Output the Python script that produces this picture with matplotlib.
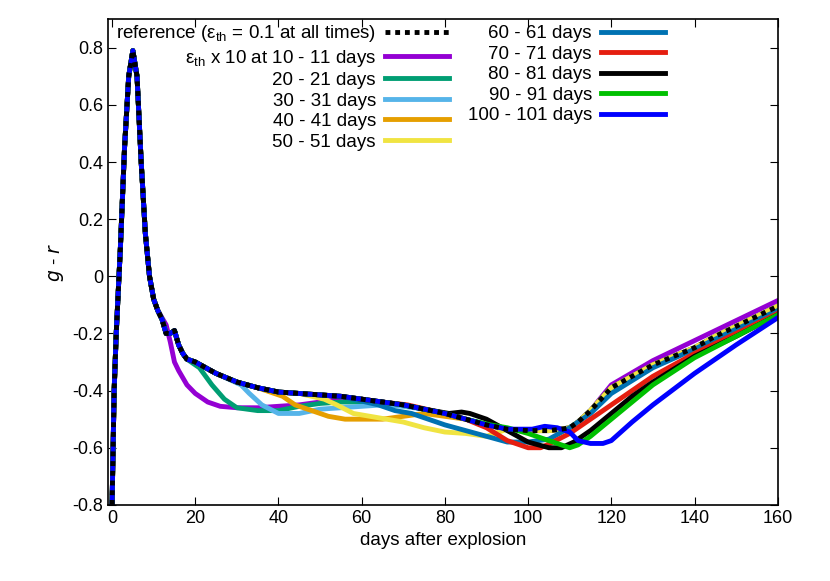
import matplotlib.pyplot as plt

plt.rcParams['font.family'] = 'Liberation Sans'
plt.rcParams['mathtext.default'] = 'regular'

# reference curve (eps_th = 0.1 at all times)
ref_t = [0, 0.5, 1, 2, 3, 4, 5, 6, 7, 8, 9, 10, 11, 12, 13, 14, 15, 16, 17, 18, 20, 25, 30, 35,
         40, 45, 50, 55, 60, 65, 70, 75, 80, 85, 90, 95, 100, 105, 108, 110, 112, 115, 120, 125,
         130, 135, 140, 145, 150, 155, 160]
ref_y = [-0.8, -0.4, -0.2, 0.1, 0.45, 0.7, 0.79, 0.7, 0.4, 0.15, 0.0, -0.08, -0.12, -0.15,
         -0.2, -0.2, -0.19, -0.24, -0.27, -0.29, -0.3, -0.34, -0.37, -0.39, -0.405, -0.41,
         -0.415, -0.42, -0.43, -0.44, -0.45, -0.465, -0.48, -0.5, -0.52, -0.535, -0.54, -0.54,
         -0.535, -0.53, -0.51, -0.47, -0.39, -0.35, -0.31, -0.28, -0.25, -0.21, -0.175, -0.14,
         -0.105]

# deviating parts of each run
labels = ['$\\epsilon_{th}$ x 10 at 10 - 11 days', '20 - 21 days', '30 - 31 days',
          '40 - 41 days', '50 - 51 days', '60 - 61 days', '70 - 71 days', '80 - 81 days',
          '90 - 91 days', '100 - 101 days']
colors = ['#9400d3', '#009e73', '#56b4e9', '#e69f00', '#f0e442', '#0072b2', '#e51e10',
          '#000000', '#00c000', '#0000ff']
starts = [12, 20, 30, 40, 50, 60, 70, 80, 90, 100]
dev_t = [
    [13, 14, 15, 16, 18, 20, 23, 26, 30, 35, 40, 45, 50, 55, 60],
    [21, 24, 27, 30, 35, 40, 45, 50, 55, 60, 65],
    [31, 33, 36, 40, 45, 50, 55, 60, 65, 70],
    [41, 44, 48, 52, 56, 60, 65, 70, 75, 80],
    [51, 54, 58, 62, 66, 70, 75, 80, 85, 90],
    [61, 64, 68, 72, 76, 80, 85, 90, 95, 100, 105, 110, 115, 120, 130, 140, 150, 160],
    [71, 80, 85, 90, 95, 100, 103, 106, 110, 115, 120, 125, 130, 140, 150, 160],
    [81, 84, 86, 90, 95, 100, 105, 108, 111, 115, 120, 125, 130, 140, 150, 160],
    [91, 95, 100, 105, 108, 110, 112, 115, 120, 125, 130, 140, 150, 160],
    [101, 104, 107, 110, 112, 115, 118, 120, 125, 130, 140, 150, 160],
]
dev_y = [
    [-0.17, -0.23, -0.3, -0.33, -0.38, -0.41, -0.44, -0.455, -0.46, -0.46, -0.455, -0.45,
     -0.44, -0.43, -0.43],
    [-0.32, -0.38, -0.43, -0.46, -0.47, -0.47, -0.455, -0.445, -0.44, -0.44, -0.44],
    [-0.38, -0.41, -0.45, -0.48, -0.48, -0.465, -0.46, -0.455, -0.45, -0.455],
    [-0.42, -0.45, -0.47, -0.49, -0.5, -0.5, -0.5, -0.49, -0.48, -0.49],
    [-0.43, -0.45, -0.48, -0.49, -0.5, -0.51, -0.53, -0.545, -0.55, -0.56],
    [-0.44, -0.45, -0.47, -0.48, -0.5, -0.52, -0.54, -0.56, -0.58, -0.58, -0.57, -0.53,
     -0.48, -0.41, -0.32, -0.255, -0.185, -0.12],
    [-0.45, -0.48, -0.5, -0.53, -0.575, -0.6, -0.6, -0.58, -0.55, -0.5, -0.45, -0.4,
     -0.35, -0.27, -0.2, -0.13],
    [-0.48, -0.475, -0.48, -0.5, -0.54, -0.58, -0.6, -0.6, -0.58, -0.54, -0.48, -0.42,
     -0.37, -0.28, -0.21, -0.135],
    [-0.52, -0.53, -0.55, -0.575, -0.59, -0.6, -0.59, -0.56, -0.5, -0.44, -0.38, -0.285,
     -0.21, -0.135],
    [-0.535, -0.525, -0.53, -0.545, -0.575, -0.585, -0.585, -0.575, -0.51, -0.45, -0.34,
     -0.24, -0.145],
]
# purple run ends slightly above the reference
purple_tail_t = [120, 130, 140, 150, 160]
purple_tail_y = [-0.38, -0.295, -0.225, -0.155, -0.085]

fig = plt.figure(figsize=(8.3, 5.81), dpi=100)
ax = fig.add_axes([0.130, 0.131, 0.807, 0.836])

for i in range(len(labels)):
    pre_t = [t for t in ref_t if t < starts[i]]
    pre_y = [y for t, y in zip(ref_t, ref_y) if t < starts[i]]
    last = dev_t[i][-1]
    post_t = [t for t in ref_t if t > last]
    post_y = [y for t, y in zip(ref_t, ref_y) if t > last]
    if i == 0:
        post_t = [t for t in ref_t if last < t < 120] + purple_tail_t
        post_y = [y for t, y in zip(ref_t, ref_y) if last < t < 120] + purple_tail_y
    ax.plot(pre_t + dev_t[i] + post_t, pre_y + dev_y[i] + post_y, color=colors[i], lw=3.5,
            label=labels[i], zorder=2 + i * 0.01)

ax.plot(ref_t, ref_y, color='black', lw=3.5, ls=(0, (1, 1)), zorder=3,
        label='reference ($\\epsilon_{th}$ = 0.1 at all times)')

handles, labs = ax.get_legend_handles_labels()
order = [10, 0, 1, 2, 3, 4, 5, 6, 7, 8, 9]
ax.legend([handles[k] for k in order], [labs[k] for k in order], ncol=2, loc='upper left',
          bbox_to_anchor=(-0.005, 1.015), frameon=False, markerfirst=False, fontsize=13.5,
          handlelength=3.4, labelspacing=0.18, columnspacing=1.0, handletextpad=0.5,
          borderaxespad=0.2)

ax.set_xlim(-1, 160)
ax.set_ylim(-0.8, 0.9)
ax.set_xticks(range(0, 161, 20))
ax.set_yticks([-0.8, -0.6, -0.4, -0.2, 0, 0.2, 0.4, 0.6, 0.8])
ax.set_yticklabels(['-0.8', '-0.6', '-0.4', '-0.2', '0', '0.2', '0.4', '0.6', '0.8'])
ax.tick_params(direction='in', top=True, right=True, labelsize=13, length=6)
ax.set_xlabel('days after explosion', fontsize=13.5)
ax.set_ylabel('$\\it{g}$ - $\\it{r}$', fontsize=13.5)
for s in ax.spines.values():
    s.set_linewidth(1.2)

fig.savefig('out.png', dpi=100)
